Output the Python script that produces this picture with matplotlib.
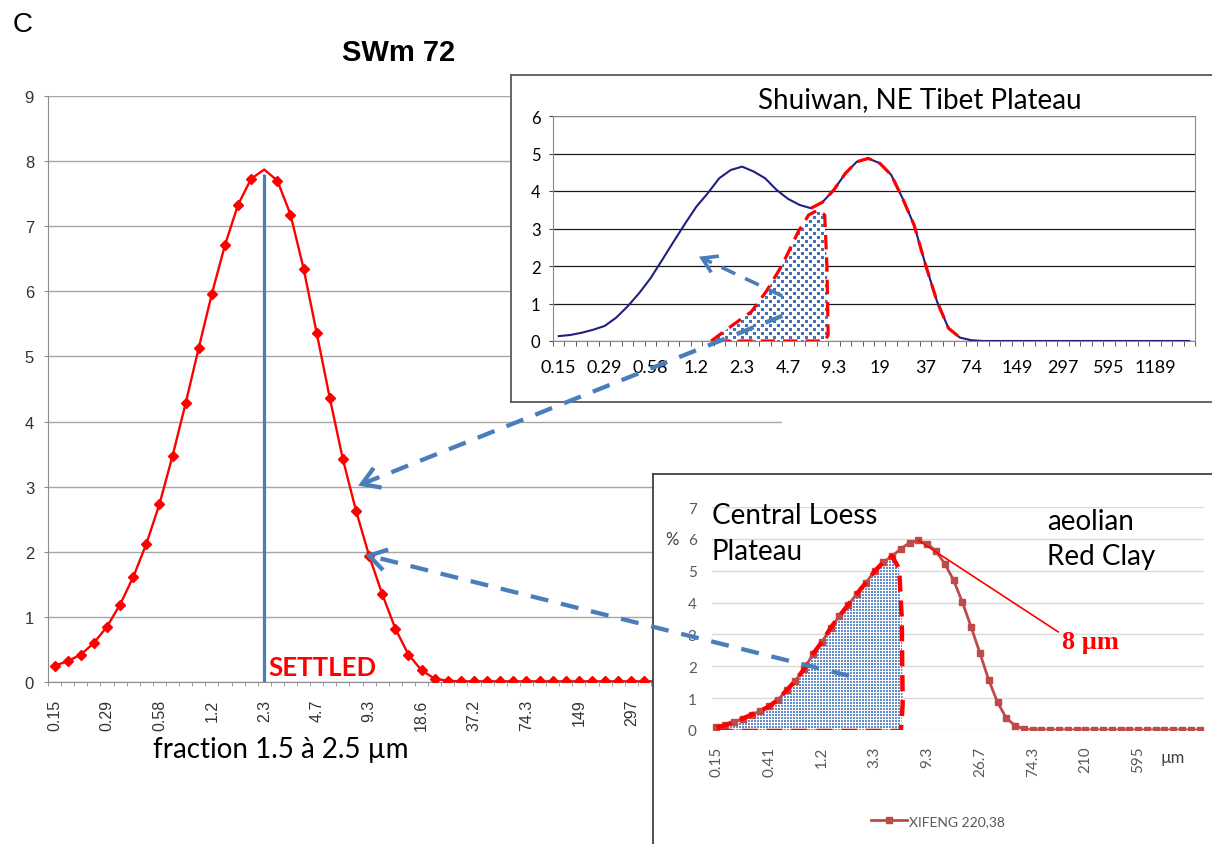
import numpy as np
import matplotlib.pyplot as plt
from matplotlib.patches import Polygon
from matplotlib.lines import Line2D

plt.rcParams["font.family"] = ["Liberation Sans", "DejaVu Sans"]

W, H = 1212, 845

# size-class labels (every 4th class on the first two charts, every 6th on the third)
main_ticklabels = ["0.15", "0.29", "0.58", "1.2", "2.3", "4.7", "9.3", "18.6",
                   "37.2", "74.3", "149", "297", "595", "1189"]
shuiwan_ticklabels = ["0.15", "0.29", "0.58", "1.2", "2.3", "4.7", "9.3", "19",
                      "37", "74", "149", "297", "595", "1189"]
xifeng_ticklabels = ["0.15", "0.41", "1.2", "3.3", "9.3", "26.7", "74.3", "210", "595"]

# SWm 72 grain-size distribution (%)
main_values = [
    0.25, 0.32, 0.42, 0.60, 0.85, 1.19, 1.61, 2.12, 2.73, 3.47,
    4.28, 5.13, 5.96, 6.71, 7.33, 7.73, 7.87, 7.70, 7.18, 6.35,
    5.36, 4.36, 3.42, 2.63, 1.94, 1.35, 0.82, 0.42, 0.18, 0.05,
    0.02, 0.01, 0.01, 0.01, 0.01, 0.01, 0.01, 0.01, 0.01, 0.01,
    0.01, 0.01, 0.01, 0.01, 0.01, 0.01, 0.01, 0.01, 0.01, 0.01,
    0.01, 0.01, 0.01, 0.01, 0.01, 0.01]

# Shuiwan, NE Tibet Plateau
shuiwan_values = [
    0.13, 0.16, 0.22, 0.30, 0.40, 0.62, 0.92, 1.27, 1.67, 2.15,
    2.64, 3.12, 3.58, 3.94, 4.34, 4.56, 4.65, 4.52, 4.34, 4.03,
    3.79, 3.63, 3.54, 3.70, 4.03, 4.47, 4.78, 4.87, 4.74, 4.43,
    3.80, 3.09, 2.03, 1.05, 0.34, 0.09, 0.02, 0.00, 0.00, 0.00,
    0.00, 0.00, 0.00, 0.00, 0.00, 0.00, 0.00, 0.00, 0.00, 0.00,
    0.00, 0.00, 0.00, 0.00, 0.00, 0.00]

# Xifeng red clay, sample 220,38
xifeng_values = [
    0.08, 0.15, 0.25, 0.36, 0.48, 0.60, 0.74, 0.95, 1.25, 1.55,
    1.92, 2.39, 2.76, 3.20, 3.58, 3.93, 4.28, 4.62, 4.98, 5.27,
    5.46, 5.69, 5.88, 5.95, 5.85, 5.61, 5.22, 4.70, 4.01, 3.23,
    2.41, 1.57, 0.87, 0.37, 0.14, 0.03, 0.00, 0.00, 0.00, 0.00,
    0.00, 0.00, 0.00, 0.00, 0.00, 0.00, 0.00, 0.00, 0.00, 0.00,
    0.00, 0.00, 0.00, 0.00, 0.00, 0.00]

# outlined fine fractions as (class index, %)
shuiwan_fraction = [(13.3, 0.0), (15.2, 0.43), (16.8, 0.78), (18.1, 1.32), (19.5, 2.03),
                    (20.9, 2.92), (21.8, 3.36), (22.6, 3.49), (23.2, 3.36), (23.4, 1.94),
                    (23.5, 0.16), (23.2, 0.0)]
xifeng_fraction_end = [(20.8, 5.06), (21.1, 3.5), (21.2, 0.8), (21.0, -0.03), (0.3, -0.03)]

RED = "#ff0000"
BLUE = "#4a7ebb"
GRAY = "#8c8c8c"
calibri = ["Lato", "DejaVu Sans"]

fig = plt.figure(figsize=(W / 100, H / 100), dpi=100)


def px_axes(left, top, right, bottom, z):
    return fig.add_axes([left / W, 1 - bottom / H, (right - left) / W, (bottom - top) / H],
                        zorder=z)


def texture(h, w, mask, rgb):
    img = np.ones((h, w, 3))
    img[mask] = rgb
    return img


n = len(main_values)
x = np.arange(n)
peak = int(np.argmax(main_values))

# ---- main chart: SWm 72
ax = px_axes(48, 97, 782, 683, 1)
ax.plot(x, main_values, color=RED, lw=1.7, marker="D", ms=5.5,
        markevery=[i for i in range(n) if i != peak], zorder=3)
ax.vlines(peak, 0, main_values[peak] - 0.07, color=BLUE, lw=2.3, zorder=4)
ax.set_xlim(-0.5, n - 0.5)
ax.set_ylim(0, 9)
ax.set_yticks(range(10))
ax.yaxis.grid(True, color="#a6a6a6", lw=1)
ax.set_axisbelow(True)
ax.set_xticks(x[::4][:len(main_ticklabels)])
ax.set_xticklabels(main_ticklabels, rotation=90)
ax.set_xticks(np.arange(-0.5, n, 1), minor=True)
ax.tick_params(axis="x", which="major", length=0, pad=12, labelsize=11.5, labelcolor="#333333")
ax.tick_params(axis="x", which="minor", length=3, color=GRAY)
ax.tick_params(axis="y", length=3, color=GRAY, pad=7, labelsize=12, labelcolor="#333333")
for s in ["top", "right"]:
    ax.spines[s].set_visible(False)
for s in ["left", "bottom"]:
    ax.spines[s].set_color(GRAY)

# ---- inset 1: Shuiwan
f1 = px_axes(511, 76, 1240, 403, 2)
f1.set_xticks([])
f1.set_yticks([])
for s in f1.spines.values():
    s.set_color("#595959")
    s.set_linewidth(1.3)

p1 = px_axes(553, 117, 1195, 342, 3)
p1.set_facecolor("none")
p1.plot(x, shuiwan_values, color="#202080", lw=1.5, zorder=4)
r, c = np.mgrid[0:225, 0:642]
chk = ((r // 4 + c // 4) % 2 == 0) & (r % 4 < 3) & (c % 4 < 3)
im1 = p1.imshow(texture(225, 642, chk, (0.27, 0.45, 0.75)), extent=(-0.5, n - 0.5, 0, 6),
                aspect="auto", interpolation="nearest", zorder=2)
im1.set_clip_path(Polygon(shuiwan_fraction, closed=True, transform=p1.transData))
sx, sy = zip(*(shuiwan_fraction + shuiwan_fraction[:1]))
p1.plot(sx, sy, color=RED, lw=2.3, ls=(0, (4.5, 2.5)), zorder=5)
p1.plot(x[22:36], shuiwan_values[22:36], color=RED, lw=2.3, ls=(0, (4.5, 2.5)), zorder=5)
p1.set_xlim(-0.5, n - 0.5)
p1.set_ylim(0, 6)
p1.set_yticks(range(7))
p1.yaxis.grid(True, color="#1a1a1a", lw=0.9)
p1.set_axisbelow(True)
p1.set_xticks(x[::4][:len(shuiwan_ticklabels)])
p1.set_xticklabels(shuiwan_ticklabels)
p1.set_xticks(np.arange(-0.5, n, 1), minor=True)
for lab in p1.get_xticklabels() + p1.get_yticklabels():
    lab.set_family(calibri)
p1.tick_params(axis="x", which="major", length=0, pad=13, labelsize=13)
p1.tick_params(axis="x", which="minor", length=3.5, color="#404040")
p1.tick_params(axis="y", length=3, color="#404040", pad=6, labelsize=12)
for s in p1.spines.values():
    s.set_color(GRAY)

# ---- inset 2: Xifeng
f2 = px_axes(653, 475, 1240, 870, 4)
f2.set_xticks([])
f2.set_yticks([])
for s in f2.spines.values():
    s.set_color("#404040")
    s.set_linewidth(1.3)

p2 = px_axes(712, 508, 1204, 731, 5)
p2.set_facecolor("none")
p2.plot(x, xifeng_values, color="#be4b48", lw=2, marker="s", ms=4, zorder=4)
r, c = np.mgrid[0:223, 0:492]
dots = (r % 3 < 2) & (c % 3 < 2)
poly2 = [(i, xifeng_values[i]) for i in range(21)] + xifeng_fraction_end
im2 = p2.imshow(texture(223, 492, dots, (0.40, 0.56, 0.80)), extent=(-0.5, n - 0.5, 0, 7),
                aspect="auto", interpolation="nearest", zorder=2)
im2.set_clip_path(Polygon(poly2, closed=True, transform=p2.transData))
px2, py2 = zip(*(poly2 + poly2[:1]))
p2.plot(px2, py2, color=RED, lw=3.2, ls=(0, (3.6, 2.0)), zorder=5)
top = int(np.argmax(xifeng_values))
p2.plot([top, 38.9], [xifeng_values[top], 3.08], color=RED, lw=1.2, zorder=5)
p2.set_xlim(-0.5, n - 0.5)
p2.set_ylim(0, 7)
p2.set_yticks(range(8))
p2.yaxis.grid(True, color="#d9d9d9", lw=1)
p2.set_axisbelow(True)
p2.set_xticks(x[::6][:len(xifeng_ticklabels)])
p2.set_xticklabels(xifeng_ticklabels, rotation=90)
for lab in p2.get_xticklabels() + p2.get_yticklabels():
    lab.set_family(calibri)
p2.tick_params(axis="x", length=0, pad=11, labelsize=11, labelcolor="#595959")
p2.tick_params(axis="y", length=0, pad=11, labelsize=11, labelcolor="#595959")
for s in p2.spines.values():
    s.set_visible(False)

# ---- overlay in pixel units for labels and arrows
over = fig.add_axes([0, 0, 1, 1], zorder=10)
over.set_xlim(0, W)
over.set_ylim(H, 0)
over.axis("off")


def to_over(a, xy):
    return over.transData.inverted().transform(a.transData.transform(xy))


def dashed_arrow(tail, tip, lw=3.1, head=20, ang=32):
    tail, tip = np.asarray(tail), np.asarray(tip)
    over.plot([tail[0], tip[0]], [tail[1], tip[1]], color=BLUE, lw=lw,
              ls=(0, (4.2, 3.0)), dash_capstyle="butt")
    d = (tail - tip) / np.hypot(*(tail - tip))
    arms = []
    for a in (np.radians(ang), -np.radians(ang)):
        rot = np.array([[np.cos(a), -np.sin(a)], [np.sin(a), np.cos(a)]])
        arms.append(tip + head * rot @ d)
    over.plot([arms[0][0], tip[0], arms[1][0]], [arms[0][1], tip[1], arms[1][1]],
              color=BLUE, lw=lw, solid_joinstyle="miter", solid_capstyle="butt")


dashed_arrow(to_over(p1, (19.5, 0.67)), to_over(ax, (23.45, 3.04)))
dashed_arrow(to_over(p1, (19.5, 1.2)), to_over(p1, (12.5, 2.21)), lw=2.6, head=17)
dashed_arrow(to_over(p2, (15.1, 1.70)), to_over(ax, (24, main_values[24])))

over.text(13, 25, "C", fontsize=20, ha="left", va="center")
over.text(399, 53, "SWm 72", fontsize=21, fontweight="bold", ha="center", va="center")
over.text(268, 668, "SETTLED", fontsize=18.5, fontweight="bold", color=RED,
          family=calibri, ha="left", va="center")
over.text(153, 750, "fraction 1.5 à 2.5 µm", fontsize=20, family=calibri,
          ha="left", va="center")
over.text(920, 100, "Shuiwan, NE Tibet Plateau", fontsize=20, family=calibri,
          ha="center", va="center")
for tx, ty, s in [(712, 516, "Central Loess"), (712, 552, "Plateau"),
                  (1047, 522, "aeolian"), (1047, 557, "Red Clay")]:
    over.text(tx, ty, s, fontsize=20, family=calibri, ha="left", va="center")
over.text(1062, 643, "8 µm", fontsize=19, fontweight="bold", color=RED,
          family=["Liberation Serif", "DejaVu Serif"], ha="left", va="center")
over.text(672, 540, "%", fontsize=12, color="#404040", family=calibri, ha="center", va="center")
over.text(1161, 758, "µm", fontsize=12, color="#404040", family=calibri, ha="left", va="center")

handle = Line2D([], [], color="#be4b48", lw=2, marker="s", ms=4)
over.legend([handle], ["XIFENG 220,38"], loc="center", bbox_to_anchor=(938, 822),
            bbox_transform=over.transData, frameon=False,
            handlelength=2.6, handletextpad=0.1, labelcolor="#595959",
            prop={"family": calibri, "size": 10})

fig.savefig("out.png", dpi=100)
